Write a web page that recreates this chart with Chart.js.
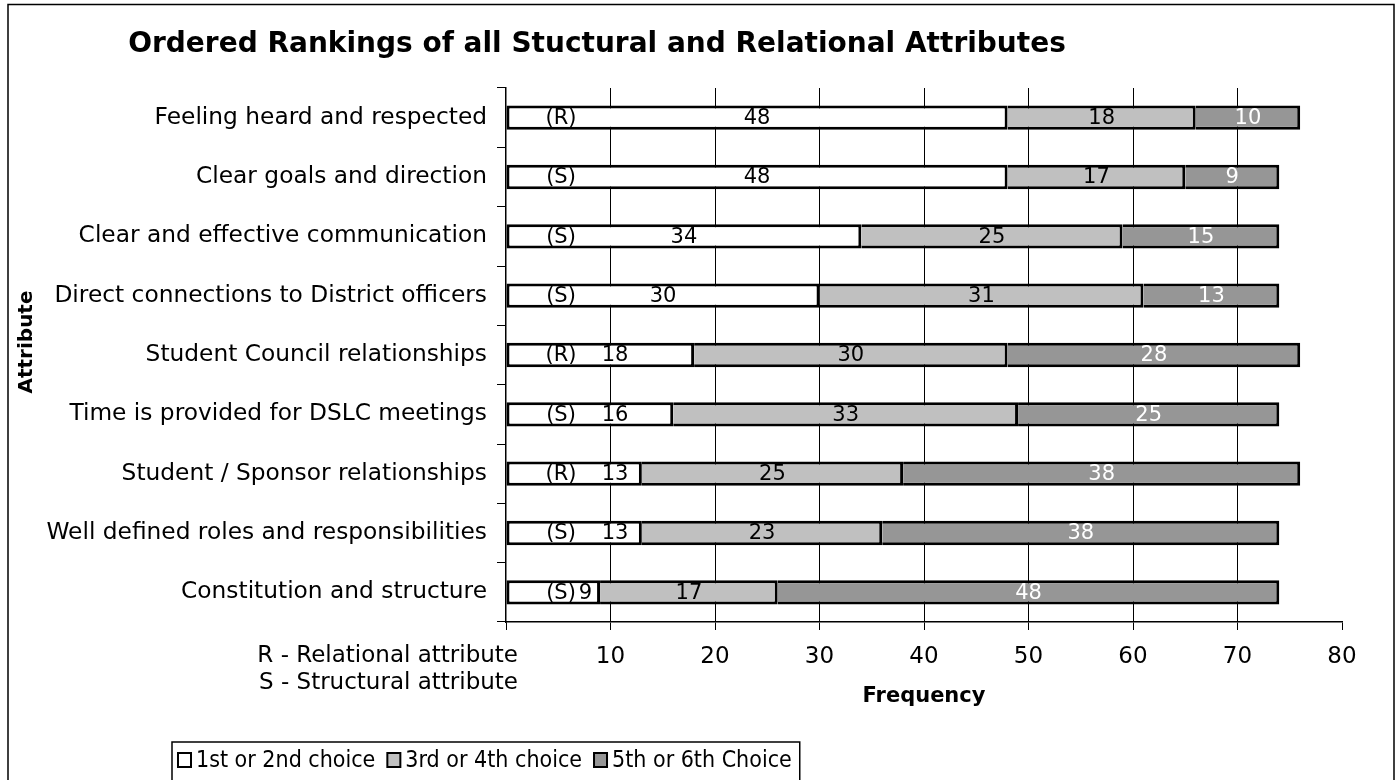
<!DOCTYPE html>
<html>
<head>
<meta charset="utf-8">
<script src="https://cdn.jsdelivr.net/npm/chart.js@4.4.1/dist/chart.umd.min.js"></script>
<style>
  html, body { margin: 0; padding: 0; background: #fff; }
  #wrap { width: 1400px; height: 780px; position: relative; }
</style>
</head>
<body>
<div id="wrap"><canvas id="c" width="1400" height="780"></canvas></div>
<script>
const categories = [
  'Feeling heard and respected',
  'Clear goals and direction',
  'Clear and effective communication',
  'Direct connections to District officers',
  'Student Council relationships',
  'Time is provided for DSLC meetings',
  'Student / Sponsor relationships',
  'Well defined roles and responsibilities',
  'Constitution and structure'
];
const attributeType = ['R', 'S', 'S', 'S', 'R', 'S', 'R', 'S', 'S'];
const choice12 = [48, 48, 34, 30, 18, 16, 13, 13, 9];
const choice34 = [18, 17, 25, 31, 30, 33, 25, 23, 17];
const choice56 = [10, 9, 15, 13, 28, 25, 38, 38, 48];
const seriesNames = ['1st or 2nd choice', '3rd or 4th choice', '5th or 6th Choice'];
const xTicks = [0, 10, 20, 30, 40, 50, 60, 70, 80];
const notes = ['R - Relational attribute', 'S - Structural attribute'];
const chartTitle = 'Ordered Rankings of all Stuctural and Relational Attributes';
const xTitle = 'Frequency';
const yTitle = 'Attribute';

const FONT = "'DejaVu Sans', Verdana, sans-serif";
const colors = ['#ffffff', '#c0c0c0', '#969696'];
const labelColors = ['#000000', '#000000', '#ffffff'];

const decor = {
  id: 'decor',
  afterDraw(chart) {
    const ctx = chart.ctx;
    const ca = chart.chartArea;
    ctx.save();
    // outer frame
    ctx.strokeStyle = '#000';
    ctx.lineWidth = 1.5;
    ctx.beginPath();
    ctx.moveTo(8, 781); ctx.lineTo(8, 4.5); ctx.lineTo(1394, 4.5); ctx.lineTo(1394, 781);
    ctx.stroke();
    // title
    ctx.fillStyle = '#000';
    ctx.font = "bold 28px " + FONT;
    ctx.textAlign = 'center';
    ctx.textBaseline = 'middle';
    ctx.fillText(chartTitle, 597, 45);
    // x title
    ctx.font = "bold 21px " + FONT;
    ctx.fillText(xTitle, (ca.left + ca.right) / 2, 697);
    // y title
    ctx.save();
    ctx.translate(27, 342);
    ctx.rotate(-Math.PI / 2);
    ctx.font = "bold 20px " + FONT;
    ctx.fillText(yTitle, 0, 0);
    ctx.restore();
    // notes
    ctx.font = "23px " + FONT;
    ctx.textAlign = 'right';
    ctx.fillText(notes[0], 518, 656);
    ctx.fillText(notes[1], 518, 683);
    // legend
    ctx.font = "23px 'Liberation Sans Narrow', 'DejaVu Sans Condensed', sans-serif";
    ctx.textAlign = 'left';
    let x = 178;
    const ly = 760;
    seriesNames.forEach((name, i) => {
      ctx.fillStyle = colors[i];
      ctx.fillRect(x, ly - 7, 13, 14);
      ctx.strokeStyle = '#000';
      ctx.lineWidth = 2;
      ctx.strokeRect(x, ly - 7, 13, 14);
      ctx.fillStyle = '#000';
      ctx.fillText(name, x + 18, ly + 1);
      x += 18 + ctx.measureText(name).width + 12;
    });
    const right = x - 12 + 8;
    ctx.strokeStyle = '#000';
    ctx.lineWidth = 1.5;
    ctx.beginPath();
    ctx.moveTo(172, 781); ctx.lineTo(172, 742); ctx.lineTo(right, 742); ctx.lineTo(right, 781);
    ctx.stroke();
    ctx.restore();
  },
  afterDatasetsDraw(chart) {
    const ctx = chart.ctx;
    const xs = chart.scales.x;
    ctx.save();
    ctx.font = "21px " + FONT;
    ctx.textBaseline = 'middle';
    chart.data.datasets.forEach((ds, di) => {
      const meta = chart.getDatasetMeta(di);
      meta.data.forEach((bar, i) => {
        const v = ds.data[i];
        const y = bar.y;
        const x0 = bar.base, x1 = bar.x;
        const txt = String(v);
        const w = ctx.measureText(txt).width;
        let cx = (x0 + x1) / 2;
        ctx.fillStyle = labelColors[di];
        ctx.textAlign = 'center';
        if (di === 0) {
          ctx.fillText('(' + attributeType[i] + ')', xs.getPixelForValue(0) + 55, y + 1);
          cx = Math.max(cx, xs.getPixelForValue(0) + 109);
          cx = Math.min(cx, x1 - w / 2 - 8);
        }
        ctx.fillText(txt, cx, y + 1);
      });
    });
    ctx.restore();
  }
};

const data = {
  labels: categories,
  datasets: [choice12, choice34, choice56].map((arr, i) => ({
    label: seriesNames[i],
    data: arr,
    backgroundColor: colors[i],
    borderColor: '#000',
    borderWidth: 3,
    borderSkipped: i === 0 ? false : 'start',
    barPercentage: 0.41,
    categoryPercentage: 1.0
  }))
};

new Chart(document.getElementById('c'), {
  type: 'bar',
  data,
  plugins: [decor],
  options: {
    indexAxis: 'y',
    responsive: false,
    animation: false,
    devicePixelRatio: 1,
    layout: { padding: { left: 0, right: 58, top: 88, bottom: 0 } },
    plugins: { legend: { display: false }, title: { display: false }, tooltip: { enabled: false } },
    scales: {
      x: {
        stacked: true,
        min: xTicks[0],
        max: xTicks[xTicks.length - 1],
        afterBuildTicks(scale) { scale.ticks = xTicks.map(v => ({ value: v })); },
        afterFit(scale) { scale.height = 158; },
        ticks: {
          font: { family: FONT, size: 23 },
          color: '#000',
          padding: 13,
          maxRotation: 0,
          callback: v => (v === 0 ? '' : String(v))
        },
        grid: {
          color: c => (c.tick && (c.tick.value === 0 || c.tick.value === 80)) ? 'rgba(0,0,0,0)' : '#000',
          lineWidth: 1,
          tickColor: '#000',
          tickLength: 8,
          drawTicks: true
        },
        border: { display: true, color: '#000', width: 1.5 }
      },
      y: {
        stacked: true,
        afterFit(scale) { scale.width = 506; },
        ticks: {
          font: { family: FONT, size: 23.3 },
          color: '#000',
          padding: 10
        },
        grid: {
          offset: true,
          drawOnChartArea: false,
          tickColor: '#000',
          tickLength: 9,
          color: '#000'
        },
        border: { display: true, color: '#000', width: 1.5 }
      }
    }
  }
});
</script>
</body>
</html>
